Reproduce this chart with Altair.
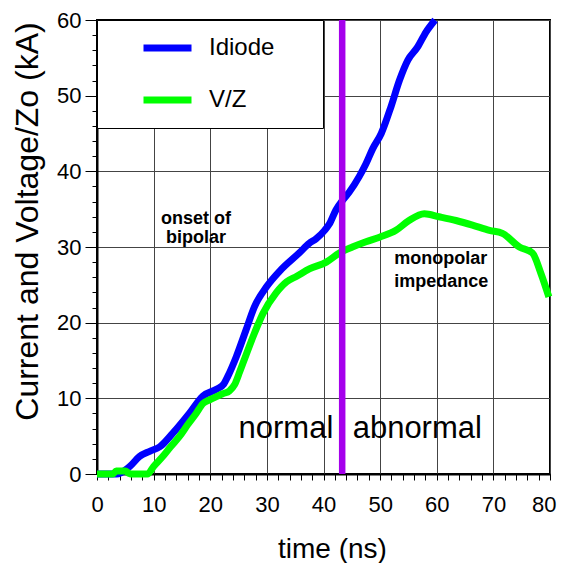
import altair as alt
import pandas as pd

# ---- data ----
idiode_t = [0, 3.5, 4.3, 5.8, 7.5, 9.3, 11.1, 13.4, 16.3, 18.7, 21.1, 22.4, 23.1, 24.6, 26.3, 27.8,
            29.9, 32.5, 35.7, 37.5, 38.7, 40.2, 41.0, 42.2, 43.4, 44.5, 46.3, 47.5, 48.7, 50.2,
            51.9, 53.4, 54.9, 56.6, 58.1, 59.7]
idiode_v = [0, 0, 0.2, 1.0, 2.3, 3.0, 3.6, 5.4, 8.0, 10.3, 11.2, 11.9, 12.9, 15.5, 19.0, 22.1,
            24.7, 27.0, 29.2, 30.5, 31.1, 32.2, 33.0, 34.9, 36.2, 37.2, 39.3, 41.0, 43.0, 45.0,
            48.5, 52.0, 54.7, 56.4, 58.4, 60.0]

vz_t = [0, 2.8, 3.4, 5.0, 5.6, 6.0, 8.9, 10.0, 11.6, 13.0, 14.6, 16.0, 17.5, 18.7, 19.9, 22.2,
        23.4, 24.3, 25.2, 26.0, 27.8, 29.3, 31.6, 33.5, 35.2, 37.5, 40.5, 42.8, 45.1, 47.5,
        49.9, 52.8, 55.1, 57.8, 60.4, 63.4, 66.3, 69.3, 71.6, 74.6, 76.9, 78.4, 79.8]
vz_v = [0, 0, 0.4, 0.4, 0.1, 0, 0, 1.0, 2.3, 3.6, 5.0, 6.5, 8.0, 9.3, 9.8, 10.6,
        11.0, 11.8, 13.5, 15.1, 18.6, 21.2, 23.9, 25.4, 26.1, 27.1, 28.0, 29.2, 30.0, 30.7,
        31.3, 32.2, 33.5, 34.4, 34.0, 33.5, 32.9, 32.2, 31.8, 30.0, 29.2, 26.5, 23.4]

series_names = ["Idiode", "V/Z"]
series_colors = ["#0000ff", "#00ff00"]

marker_t = [43.3]

bold_text = ["onset of", "bipolar", "monopolar", "impedance"]
bold_x = [11.3, 12.2, 52.5, 52.5]
bold_y = [33.0, 30.55, 27.7, 24.75]

big_text = ["normal", "abnormal"]
big_x = [25.0, 45.15]
big_y = [4.75, 4.75]

x_ticks = list(range(0, 81, 2))
y_ticks = list(range(0, 61, 2))

# ---- tables ----
df_lines = pd.concat([
    pd.DataFrame({"t": idiode_t, "v": idiode_v, "series": series_names[0]}),
    pd.DataFrame({"t": vz_t, "v": vz_v, "series": series_names[1]}),
], ignore_index=True)
df_marker = pd.DataFrame({"t": marker_t})
df_bold = pd.DataFrame({"t": bold_x, "v": bold_y, "label": bold_text})
df_big = pd.DataFrame({"t": big_x, "v": big_y, "label": big_text})

FONT = "Liberation Sans"
major = "datum.value % 10 === 0"
last_x = "datum.value === 80"

x_scale = alt.Scale(domain=[0, 80], nice=False, zero=False)
y_scale = alt.Scale(domain=[0, 60], nice=False, zero=False)

x_axis = alt.Axis(
    values=x_ticks, labelExpr=f"{major} ? datum.label : ''", labelFlush=False,
    labelOverlap=False, grid=True,
    gridOpacity={"condition": {"test": major, "value": 1}, "value": 0},
    labelAlign={"condition": {"test": last_x, "value": "right"}, "value": "center"},
    labelOffset={"condition": {"test": last_x, "value": 6}, "value": 0},
    tickSize=6, labelPadding=14, labelFontSize=22,
    title="time (ns)", titleFontSize=28, titleFontWeight="normal",
    titleX=235, titleY=83, titleBaseline="alphabetic", titleAlign="center",
)
y_axis = alt.Axis(
    values=y_ticks, labelExpr=f"{major} ? datum.label : ''", labelFlush=False,
    labelOverlap=False, grid=True,
    gridOpacity={"condition": {"test": major, "value": 1}, "value": 0},
    tickSize={"condition": {"test": major, "value": 12}, "value": 5},
    labelPadding=4, labelFontSize=22,
    title="Current and Voltage/Zo (kA)", titleFontSize=32, titleFontWeight="normal",
    titleX=-60, titleY=201, titleBaseline="alphabetic", titleAlign="center", titleAngle=270,
)

X = alt.X("t:Q", scale=x_scale, axis=x_axis)
Y = alt.Y("v:Q", scale=y_scale, axis=y_axis)

legend = alt.Legend(
    orient="none", legendX=0, legendY=0,
    title=" ", titleOrient="left", titleFontSize=1, titlePadding=28,
    padding=15, clipHeight=26, rowPadding=26,
    symbolType="stroke", symbolSize=2304, symbolStrokeWidth=7,
    labelFontSize=24, labelFont=FONT, labelColor="black", labelOffset=14,
    labelExpr="datum.label + '\u00a0\u00a0\u00a0\u00a0\u00a0\u200b'", labelLimit=400,
    fillColor="white", strokeColor="black",
)

lines = alt.Chart(df_lines).mark_line(
    strokeWidth=7, strokeJoin="round", interpolate="monotone"
).encode(
    x=X, y=Y,
    color=alt.Color("series:N", scale=alt.Scale(domain=series_names, range=series_colors),
                    legend=legend),
)

rule = alt.Chart(df_marker).mark_rule(color="#a500ec", strokeWidth=6.5).encode(x=X)

bold_txt = alt.Chart(df_bold).mark_text(
    font=FONT, fontSize=18, fontWeight="bold", align="left", baseline="alphabetic", color="black"
).encode(x=X, y=Y, text="label:N")

big_txt = alt.Chart(df_big).mark_text(
    font=FONT, fontSize=31, align="left", baseline="alphabetic", color="black"
).encode(x=X, y=Y, text="label:N")

chart = alt.layer(lines, rule, bold_txt, big_txt).properties(
    width=453, height=454,
    padding={"left": 89, "top": 12, "right": 7, "bottom": 89},
    autosize=alt.AutoSizeParams(type="none"),
    background="white",
).configure_view(
    stroke="black", strokeWidth=2
).configure_axis(
    labelFont=FONT, titleFont=FONT, labelColor="black", titleColor="black",
    domainColor="black", domainWidth=2, tickColor="black", tickWidth=1,
    gridColor="#444444", gridWidth=1,
)

chart.save("out.html", embed_options={"renderer": "svg", "actions": False})
